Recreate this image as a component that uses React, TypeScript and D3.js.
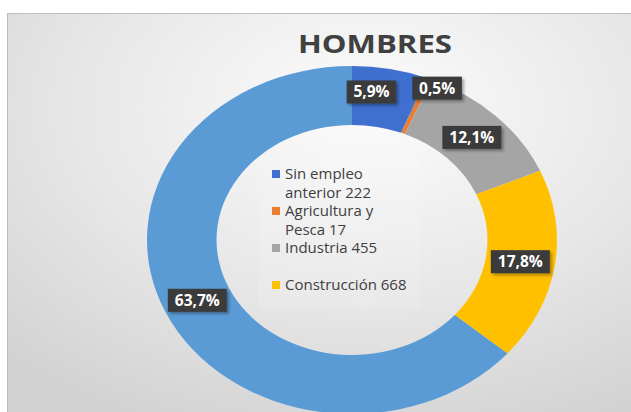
import React from "react";
import * as d3 from "d3";

const categories = ["Sin empleo anterior", "Agricultura y Pesca", "Industria", "Construcción", "Servicios"];
const values = [222, 17, 455, 668, 2390];
const legendLines = [["Sin empleo", "anterior 222"], ["Agricultura y", "Pesca 17"], ["Industria 455"], ["Construcción 668"]];
const colors = ["#3F70CF", "#ED7D31", "#A5A5A5", "#FFC000", "#5B9BD5"];
const title = "HOMBRES";

const W = 631;
const H = 412;
const cx = 352;
const cy = 240;
const rOuter = 174;
const rInner = 115;
const sx = 1.178; // horizontal stretch of the reference picture
const labelOffsets = [[-12, -6], [21, -18], [0, 0], [0, 0], [0, 0]];

export default function App() {
  const total = d3.sum(values);
  const pie = d3.pie<number>().sort(null).value((d) => d);
  const arcs = pie(values);
  const arcGen = d3.arc<d3.PieArcDatum<number>>().innerRadius(rInner).outerRadius(rOuter);
  const midR = (rInner + rOuter) / 2;
  const fmt = (v: number) => d3.format(".1f")((v / total) * 100).replace(".", ",") + "%";

  const labels = arcs.map((a, i) => {
    const ang = (a.startAngle + a.endAngle) / 2;
    const px = cx + sx * midR * Math.sin(ang);
    const py = cy - midR * Math.cos(ang);
    const text = fmt(values[i]);
    const tw = text.length * 9.4;
    return { px, py, x: px + labelOffsets[i][0], y: py + labelOffsets[i][1], text, tw };
  });

  return (
    <svg width={W} height={H} style={{ position: "absolute", left: 0, top: 0 }}>
      <defs>
        <radialGradient id="bg" cx="55%" cy="22%" r="80%">
          <stop offset="0%" stopColor="#fcfcfc" />
          <stop offset="55%" stopColor="#e7e7e7" />
          <stop offset="100%" stopColor="#d2d2d2" />
        </radialGradient>
        <filter id="sh" x="-20%" y="-20%" width="150%" height="160%">
          <feDropShadow dx="2" dy="2" stdDeviation="1.5" floodColor="#000" floodOpacity="0.35" />
        </filter>
      </defs>
      <rect x={0} y={0} width={W} height={H} fill="#ffffff" />
      <rect x={7.5} y={13.5} width={W + 20} height={H + 20} fill="url(#bg)" stroke="#bdbdbd" strokeWidth={1} />
      <text
        x={375}
        y={53}
        textAnchor="middle"
        fontFamily="'Open Sans', sans-serif"
        fontWeight={700}
        fontSize={25}
        fill="#404040"
        textLength={154}
        lengthAdjust="spacingAndGlyphs"
      >
        {title}
      </text>
      <g transform={`translate(${cx},${cy}) scale(${sx},1)`}>
        {arcs.map((a, i) => (
          <path key={categories[i]} d={arcGen(a) || ""} fill={colors[i]} />
        ))}
      </g>
      <rect x={258} y={158} width={162} height={152} fill="#ffffff" opacity={0.12} />
      {legendLines.map((lines, i) => {
        const y0 = 174 + i * 37;
        return (
          <g key={i}>
            <rect x={272} y={y0 - 4} width={8} height={8} fill={colors[i]} />
            {lines.map((t, j) => (
              <text
                key={j}
                x={285}
                y={y0 + 5 + j * 18.5}
                fontFamily="'Open Sans', sans-serif"
                fontSize={15}
                fill="#404040"
              >
                {t}
              </text>
            ))}
          </g>
        );
      })}
      {labels.map((l, i) =>
        i === 1 ? (
          <line key={"ll" + i} x1={l.px - 6} x2={l.x - l.tw / 2 - 2} y1={l.py + 10} y2={l.y + 10} stroke="#8c8c8c" strokeWidth={1} />
        ) : null
      )}
      {labels.map((l, i) => {
        const bw = l.tw + 12;
        const bh = 23;
        return (
          <g key={"lb" + i}>
            <rect x={l.x - bw / 2} y={l.y - bh / 2} width={bw} height={bh} fill="#3a3a3a" filter="url(#sh)" />
            <text
              x={l.x}
              y={l.y + 5.5}
              textAnchor="middle"
              fontFamily="'Open Sans', sans-serif"
              fontWeight={700}
              fontSize={15.5}
              fill="#ffffff"
            >
              {l.text}
            </text>
          </g>
        );
      })}
    </svg>
  );
}
